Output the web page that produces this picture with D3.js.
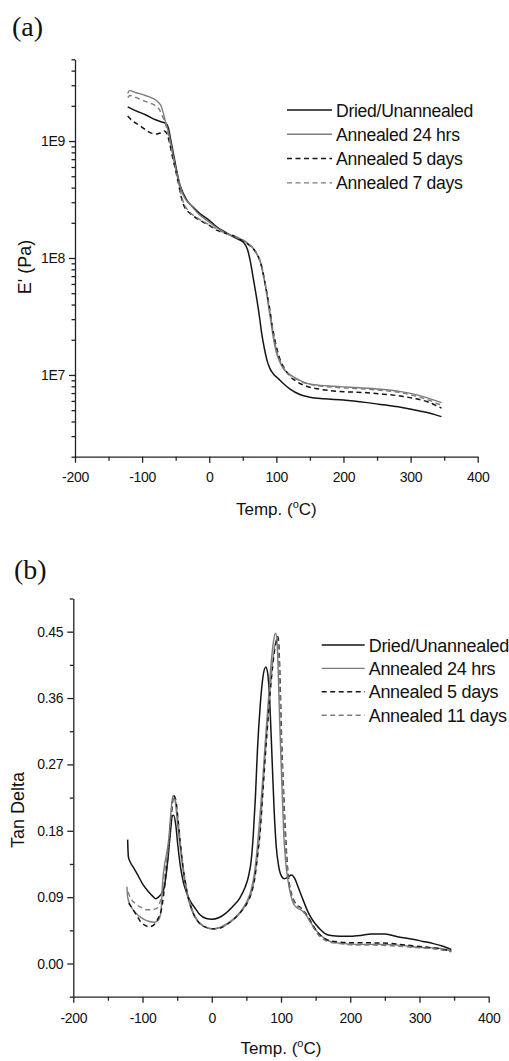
<!DOCTYPE html>
<html>
<head>
<meta charset="utf-8">
<script src="https://cdn.jsdelivr.net/npm/d3@7"></script>
<style>
    body { margin: 0; background: #fff; }
    svg { display: block; }
    .axis path, .axis line { stroke: #222; stroke-width: 1.3; }
    .axis text { font-family: Arial, "Liberation Sans", sans-serif; font-size: 14px; fill: #111; }
</style>
</head>
<body>
<svg id="chart" width="509" height="1061"></svg>
<script>
    // ---- data (a): storage modulus E' (Pa) vs temperature (°C)
    const eDried = [[-121.5, 1.96e9], [-110, 1.82e9], [-95, 1.68e9], [-80, 1.52e9], [-72, 1.46e9], [-65, 1.42e9],
        [-61, 1.3e9], [-57, 1.0e9], [-53, 7.6e8], [-48, 5.4e8], [-43, 4.1e8], [-38, 3.5e8], [-33, 3.1e8], [-25, 2.75e8],
        [-14, 2.4e8], [0, 2.1e8], [11, 1.85e8], [25, 1.65e8], [36, 1.52e8], [46, 1.42e8], [53, 1.32e8], [57, 1.18e8],
        [61, 9.5e7], [66, 6.5e7], [71, 4.4e7], [75, 3.1e7], [78, 2.3e7], [82, 1.7e7], [86, 1.34e7], [90, 1.15e7],
        [95, 1.03e7], [103, 9.3e6], [110, 8.5e6], [120, 7.6e6], [135, 6.8e6], [150, 6.45e6], [170, 6.25e6], [200, 6.1e6],
        [235, 5.8e6], [260, 5.55e6], [285, 5.3e6], [315, 4.9e6], [335, 4.6e6], [346, 4.4e6]];
    const eAnn24 = [[-121.5, 2.55e9], [-119, 2.7e9], [-110, 2.6e9], [-95, 2.45e9], [-85, 2.33e9], [-76, 2.15e9],
        [-71, 1.95e9], [-68, 1.7e9], [-65, 1.45e9], [-61, 1.2e9], [-56, 8.8e8], [-52, 6.6e8], [-48, 5.2e8], [-41, 3.7e8],
        [-35, 3.15e8], [-28, 2.85e8], [-15, 2.35e8], [0, 2.02e8], [15, 1.76e8], [30, 1.58e8], [40, 1.5e8], [50, 1.42e8],
        [60, 1.3e8], [66, 1.2e8], [72, 1.05e8], [76, 9.3e7], [80, 7.4e7], [84, 5.6e7], [88, 4e7], [92, 2.8e7], [96, 2e7],
        [100, 1.55e7], [105, 1.3e7], [110, 1.14e7], [118, 1.03e7], [125, 9.7e6], [135, 9e6], [145, 8.5e6], [165, 8.15e6],
        [185, 8e6], [210, 7.85e6], [235, 7.7e6], [260, 7.5e6], [285, 7.2e6], [305, 6.85e6], [320, 6.5e6], [335, 6.1e6],
        [346, 5.8e6]];
    const eAnn5 = [[-121.5, 1.64e9], [-115, 1.5e9], [-103, 1.35e9], [-95, 1.25e9], [-88, 1.18e9], [-78, 1.15e9],
        [-72, 1.18e9], [-67, 1.22e9], [-63, 1.15e9], [-59, 9.6e8], [-55, 7.4e8], [-50, 5.6e8], [-45, 4.1e8], [-41, 3.2e8],
        [-37, 2.75e8], [-33, 2.55e8], [-24, 2.3e8], [-14, 2.1e8], [0, 1.9e8], [11, 1.73e8], [25, 1.62e8], [36, 1.55e8],
        [48, 1.42e8], [60, 1.28e8], [68, 1.15e8], [74, 1e8], [78, 8.5e7], [82, 6.6e7], [86, 5e7], [90, 3.7e7], [95, 2.4e7],
        [100, 1.75e7], [105, 1.38e7], [112, 1.14e7], [120, 9.8e6], [130, 8.8e6], [145, 8e6], [165, 7.55e6], [185, 7.3e6],
        [210, 7.15e6], [235, 7.05e6], [260, 6.85e6], [285, 6.6e6], [305, 6.3e6], [325, 5.9e6], [346, 5.2e6]];
    const eAnn7 = [[-121.5, 2.35e9], [-118, 2.45e9], [-105, 2.3e9], [-92, 2.15e9], [-80, 2e9], [-74, 1.85e9],
        [-70, 1.64e9], [-66, 1.45e9], [-62, 1.2e9], [-57, 9e8], [-52, 6.6e8], [-47, 4.8e8], [-42, 3.5e8], [-37, 2.85e8],
        [-30, 2.5e8], [-15, 2.15e8], [0, 1.92e8], [15, 1.72e8], [30, 1.58e8], [40, 1.52e8], [50, 1.43e8], [60, 1.3e8],
        [67, 1.18e8], [73, 1.03e8], [77, 9e7], [81, 7.2e7], [85, 5.4e7], [89, 3.9e7], [93, 2.8e7], [97, 2e7], [101, 1.55e7],
        [106, 1.3e7], [112, 1.12e7], [120, 1e7], [130, 9.2e6], [145, 8.45e6], [165, 8.05e6], [185, 7.85e6], [210, 7.7e6],
        [235, 7.55e6], [260, 7.35e6], [285, 7.05e6], [305, 6.65e6], [325, 6.15e6], [346, 5.5e6]];

    // ---- data (b): tan delta vs temperature (°C)
    const tdDried = [[-121.5, 0.168], [-120.5, 0.145], [-118, 0.138], [-113, 0.13], [-108, 0.122], [-100, 0.108],
        [-92, 0.098], [-85, 0.091], [-81, 0.088], [-77, 0.09], [-73, 0.094], [-69, 0.102], [-66, 0.12], [-63, 0.145],
        [-60, 0.175], [-57, 0.2], [-55, 0.201], [-52, 0.188], [-49, 0.16], [-45, 0.13], [-41, 0.11], [-36, 0.095],
        [-30, 0.083], [-24, 0.075], [-17, 0.066], [-8, 0.061], [0, 0.06], [10, 0.062], [20, 0.068], [30, 0.077],
        [40, 0.088], [48, 0.103], [53, 0.118], [57, 0.14], [60, 0.175], [63, 0.225], [66, 0.29], [70, 0.35], [74, 0.389],
        [78, 0.402], [81, 0.392], [84, 0.35], [87, 0.28], [90, 0.21], [93, 0.16], [97, 0.13], [101, 0.118], [105, 0.115],
        [110, 0.117], [115, 0.12], [120, 0.115], [125, 0.103], [132, 0.086], [140, 0.068], [147, 0.057], [155, 0.048],
        [163, 0.041], [172, 0.038], [185, 0.037], [200, 0.037], [215, 0.038], [230, 0.04], [250, 0.04], [270, 0.036],
        [290, 0.033], [305, 0.03], [320, 0.027], [335, 0.023], [346, 0.019]];
    const tdAnn24 = [[-122.5, 0.104], [-121.5, 0.09], [-118, 0.08], [-113, 0.072], [-106, 0.065], [-98, 0.06],
        [-90, 0.057], [-83, 0.056], [-78, 0.058], [-75, 0.063], [-73, 0.075], [-71, 0.11], [-68, 0.135], [-65, 0.15],
        [-62, 0.17], [-59, 0.205], [-56, 0.228], [-53, 0.222], [-50, 0.195], [-46, 0.16], [-42, 0.13], [-37, 0.1],
        [-31, 0.078], [-25, 0.064], [-18, 0.055], [-8, 0.049], [2, 0.047], [12, 0.049], [22, 0.054], [32, 0.061],
        [42, 0.071], [50, 0.083], [57, 0.1], [62, 0.125], [66, 0.16], [70, 0.205], [74, 0.255], [78, 0.31], [82, 0.36],
        [86, 0.41], [89, 0.436], [92, 0.448], [94, 0.44], [96, 0.395], [98, 0.33], [101, 0.25], [104, 0.175], [107, 0.135],
        [110, 0.113], [114, 0.093], [118, 0.081], [124, 0.075], [130, 0.072], [136, 0.066], [142, 0.057], [150, 0.046],
        [158, 0.038], [166, 0.032], [175, 0.029], [190, 0.027], [210, 0.026], [240, 0.026], [270, 0.025], [300, 0.022],
        [325, 0.021], [346, 0.017]];
    const tdAnn5 = [[-120, 0.082], [-115, 0.075], [-109, 0.066], [-103, 0.057], [-97, 0.052], [-90, 0.05], [-84, 0.052],
        [-80, 0.057], [-76, 0.064], [-73, 0.072], [-70, 0.09], [-67, 0.115], [-64, 0.14], [-61, 0.17], [-58, 0.205],
        [-55, 0.228], [-52, 0.222], [-49, 0.198], [-45, 0.16], [-41, 0.128], [-36, 0.099], [-30, 0.077], [-24, 0.063],
        [-17, 0.054], [-8, 0.049], [2, 0.047], [12, 0.048], [22, 0.053], [32, 0.06], [42, 0.07], [50, 0.08], [57, 0.095],
        [62, 0.115], [66, 0.145], [70, 0.18], [74, 0.235], [78, 0.29], [82, 0.34], [86, 0.385], [90, 0.42], [93, 0.437],
        [95.5, 0.443], [97, 0.43], [99, 0.37], [101, 0.3], [103, 0.25], [106, 0.185], [109, 0.135], [112, 0.108],
        [116, 0.092], [122, 0.08], [128, 0.076], [134, 0.07], [140, 0.062], [146, 0.052], [153, 0.042], [161, 0.035],
        [170, 0.031], [185, 0.029], [205, 0.028], [230, 0.028], [260, 0.027], [290, 0.024], [320, 0.021], [346, 0.017]];
    const tdAnn11 = [[-121, 0.097], [-117, 0.088], [-110, 0.081], [-102, 0.076], [-94, 0.073], [-87, 0.073],
        [-81, 0.074], [-77, 0.078], [-74, 0.086], [-71, 0.105], [-68, 0.125], [-64, 0.148], [-61, 0.175], [-58, 0.21],
        [-55, 0.226], [-52, 0.219], [-49, 0.195], [-45, 0.16], [-41, 0.128], [-36, 0.1], [-30, 0.078], [-24, 0.064],
        [-17, 0.055], [-8, 0.049], [2, 0.047], [12, 0.049], [22, 0.053], [32, 0.06], [42, 0.07], [50, 0.081], [57, 0.096],
        [62, 0.118], [66, 0.148], [70, 0.185], [74, 0.24], [78, 0.295], [82, 0.345], [86, 0.39], [89, 0.418], [92, 0.436],
        [94.5, 0.44], [96.5, 0.428], [98.5, 0.37], [100.5, 0.3], [103, 0.24], [106, 0.175], [109, 0.13], [112, 0.105],
        [116, 0.09], [122, 0.079], [128, 0.075], [134, 0.069], [140, 0.06], [146, 0.05], [153, 0.04], [161, 0.033],
        [170, 0.029], [185, 0.027], [205, 0.025], [230, 0.025], [260, 0.024], [290, 0.022], [320, 0.02], [346, 0.016]];

    const tempTicks = [-200, -100, 0, 100, 200, 300, 400];
    const tempMinor = [-150, -50, 50, 150, 250, 350];
    const eTicks = [1e7, 1e8, 1e9];
    const tdTicks = [0, 0.09, 0.18, 0.27, 0.36, 0.45];
    const tdMinor = [-0.045, 0.045, 0.135, 0.225, 0.315, 0.405, 0.495];
    const legendA = ['Dried/Unannealed', 'Annealed 24 hrs', 'Annealed 5 days', 'Annealed 7 days'];
    const legendB = ['Dried/Unannealed', 'Annealed 24 hrs', 'Annealed 5 days', 'Annealed 11 days'];

    const BLACK = '#151515';
    const GRAY = '#7c7c7c';
    const DASH = '5,3.5';
    const styles = [
        {color: BLACK, dash: null, width: 1.5},
        {color: GRAY, dash: null, width: 1.4},
        {color: BLACK, dash: DASH, width: 1.5},
        {color: GRAY, dash: DASH, width: 1.4}
    ];

    const svg = d3.select('#chart');

    function logMinors(lo, hi) {
        const out = [];
        for (let p = Math.floor(Math.log10(lo)); p <= Math.ceil(Math.log10(hi)); p++) {
            for (let m = 2; m <= 9; m++) {
                const v = m * Math.pow(10, p);
                if (v >= lo * 0.999 && v <= hi * 1.001) out.push(v);
            }
        }
        return out;
    }

    function drawPanel(cfg) {
        const g = svg.append('g');
        const x = d3.scaleLinear().domain([-200, 400]).range([cfg.left, cfg.right]);
        const y = cfg.y;

        // minor ticks first
        g.append('g').attr('class', 'axis')
            .attr('transform', `translate(0,${cfg.bottom})`)
            .call(d3.axisBottom(x).tickValues(tempMinor).tickSize(4).tickFormat(''))
            .call(a => a.select('.domain').remove());
        g.append('g').attr('class', 'axis')
            .attr('transform', `translate(${cfg.left},0)`)
            .call(d3.axisLeft(y).tickValues(cfg.yMinor).tickSize(3.5).tickFormat(''))
            .call(a => a.select('.domain').remove());

        g.append('g').attr('class', 'axis')
            .attr('transform', `translate(0,${cfg.bottom})`)
            .call(d3.axisBottom(x).tickValues(tempTicks).tickSize(6).tickSizeOuter(0).tickPadding(cfg.xPad).tickFormat(d => String(d)))
            .call(a => a.selectAll('text').attr('letter-spacing', '-0.3'));
        g.append('g').attr('class', 'axis')
            .attr('transform', `translate(${cfg.left},0)`)
            .call(d3.axisLeft(y).tickValues(cfg.yTicks).tickSize(6).tickSizeOuter(0).tickPadding(4).tickFormat(cfg.yFormat))
            .call(a => a.selectAll('text').attr('letter-spacing', '-0.3'));

        const line = d3.line()
            .x(d => x(d[0]))
            .y(d => y(d[1]))
            .curve(d3.curveMonotoneX);

        g.selectAll('path.series')
            .data(cfg.series)
            .join('path')
            .classed('series', true)
            .attr('d', d => line(d))
            .attr('fill', 'none')
            .attr('stroke', (d, i) => styles[i].color)
            .attr('stroke-width', (d, i) => styles[i].width)
            .attr('stroke-dasharray', (d, i) => styles[i].dash)
            .attr('stroke-linejoin', 'round');

        // legend
        const lg = g.append('g').attr('transform', `translate(${cfg.legend.x},${cfg.legend.y})`);
        const rows = lg.selectAll('g').data(cfg.labels).join('g')
            .attr('transform', (d, i) => `translate(0,${i * cfg.legend.step})`);
        rows.append('line')
            .attr('x1', 0).attr('x2', cfg.legend.len).attr('y1', 0).attr('y2', 0)
            .attr('stroke', (d, i) => styles[i].color)
            .attr('stroke-width', (d, i) => styles[i].width)
            .attr('stroke-dasharray', (d, i) => styles[i].dash);
        rows.append('text')
            .attr('x', cfg.legend.len + 4)
            .attr('y', 6.5)
            .attr('font-family', 'Arial, "Liberation Sans", sans-serif')
            .attr('font-size', cfg.legend.font)
            .attr('letter-spacing', '-0.3')
            .attr('fill', '#111')
            .text(d => d);

        // axis titles
        const xt = g.append('text')
            .attr('x', (cfg.left + cfg.right) / 2)
            .attr('y', cfg.xTitleY)
            .attr('text-anchor', 'middle')
            .attr('font-family', 'Arial, "Liberation Sans", sans-serif')
            .attr('font-size', 17)
            .attr('fill', '#111');
        xt.append('tspan').text('Temp. (');
        xt.append('tspan').attr('font-size', 11).attr('dy', -7).text('o');
        xt.append('tspan').attr('dy', 7).text('C)');

        g.append('text')
            .attr('transform', `translate(${cfg.yTitleX},${cfg.yTitleY}) rotate(-90)`)
            .attr('text-anchor', 'middle')
            .attr('font-family', 'Arial, "Liberation Sans", sans-serif')
            .attr('font-size', 18)
            .attr('fill', '#111')
            .text(cfg.yTitle);

        // panel letter
        g.append('text')
            .attr('x', cfg.tag.x).attr('y', cfg.tag.y)
            .attr('font-family', '"Liberation Serif", "Times New Roman", serif')
            .attr('font-size', 28)
            .attr('fill', '#111')
            .text(cfg.tag.text);
    }

    // (a) log-scale modulus
    const yA = d3.scaleLog().domain([2e6, 5e9]).range([456.7, 59.3]);
    drawPanel({
        left: 75, right: 477.7, bottom: 456.7,
        y: yA,
        yTicks: eTicks,
        yMinor: logMinors(2e6, 5e9),
        yFormat: d => '1E' + Math.round(Math.log10(d)),
        xPad: 9,
        series: [eDried, eAnn24, eAnn5, eAnn7],
        labels: legendA,
        legend: {x: 287, y: 110, step: 24.3, len: 45, font: 17.6},
        xTitleY: 515,
        yTitle: "E' (Pa)", yTitleX: 31, yTitleY: 267,
        tag: {x: 12, y: 36, text: '(a)'}
    });

    // (b) tan delta
    const yB = d3.scaleLinear().domain([-0.045, 0.495]).range([996.7, 598.5]);
    drawPanel({
        left: 73.3, right: 488.7, bottom: 996.7,
        y: yB,
        yTicks: tdTicks,
        yMinor: tdMinor,
        yFormat: d3.format('.2f'),
        xPad: 10,
        series: [tdDried, tdAnn24, tdAnn5, tdAnn11],
        labels: legendB,
        legend: {x: 321.7, y: 645, step: 23.4, len: 43, font: 18},
        xTitleY: 1054,
        yTitle: 'Tan Delta', yTitleX: 24, yTitleY: 810,
        tag: {x: 14, y: 579, text: '(b)'}
    });
</script>
</body>
</html>
